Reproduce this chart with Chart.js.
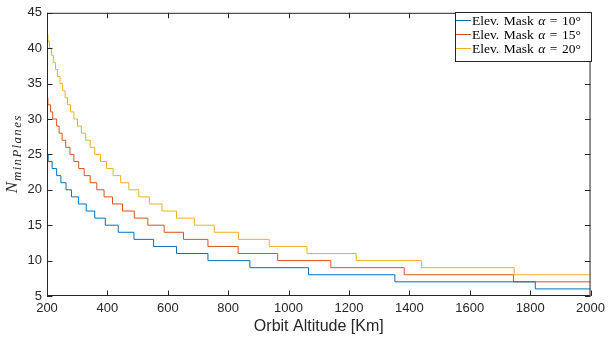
<!DOCTYPE html>
<html>
<head>
<meta charset="utf-8">
<script src="https://cdn.jsdelivr.net/npm/chart.js@4/dist/chart.umd.min.js"></script>
<style>
html, body { margin: 0; padding: 0; background: #fff; }
</style>
</head>
<body>
<canvas id="myChart" width="610" height="343"></canvas>
<script>
// step start altitudes [Km] and number of planes
var alt10 = [200, 204, 217, 232, 246, 263, 281, 304, 330, 358, 393, 436, 488, 553, 629, 733, 872, 1066, 1352, 1817, 2000];
var n10   = [25, 24, 23, 22, 21, 20, 19, 18, 17, 16, 15, 14, 13, 12, 11, 10, 9, 8, 7, 6, 6];

var alt15 = [200, 203, 212, 219, 232, 240, 250, 262, 276, 289, 305, 323, 343, 365, 389, 417, 450, 489, 534, 588, 652, 733, 833, 964, 1140, 1383, 1745, 2000];
var n15   = [33, 32, 31, 30, 29, 28, 27, 26, 25, 24, 23, 22, 21, 20, 19, 18, 17, 16, 15, 14, 13, 12, 11, 10, 9, 8, 7, 7];

var alt20 = [200, 203, 208, 215, 221, 228, 235, 243, 251, 260, 268, 278, 289, 301, 314, 328, 343, 358, 377, 397, 419, 444, 471, 504, 539, 581, 629, 688, 754, 834, 936, 1061, 1224, 1440, 1747, 2000];
var n20   = [42, 41, 40, 39, 38, 37, 36, 35, 34, 33, 32, 31, 30, 29, 28, 27, 26, 25, 24, 23, 22, 21, 20, 19, 18, 17, 16, 15, 14, 13, 12, 11, 10, 9, 8, 8];

var labels = ["Elev. Mask α = 10°", "Elev. Mask α = 15°", "Elev. Mask α = 20°"];
var colors = ["#0072BD", "#D95319", "#EDB120"];
var xTitle = "Orbit Altitude [Km]";

function pts(xs, ys) {
    var out = [];
    for (var i = 0; i < xs.length; i++) out.push({x: xs[i], y: ys[i]});
    return out;
}

const axisColor = "#262626";

// draws word by word with fixed gaps, a bit like LaTeX spacing
function drawWords(ctx, words, x, y, size, gap) {
    words.forEach(w => {
        ctx.font = (w === "α" ? "italic " : "") + size + "px 'Liberation Serif'";
        ctx.fillText(w, x, y);
        x += ctx.measureText(w).width + gap;
    });
}

// MATLAB style box, inward ticks, axis titles and legend
const matlabLook = {
    id: "matlabLook",
    afterDatasetsDraw(chart) {
        const ctx = chart.ctx;
        const a = chart.chartArea;
        const xs = chart.scales.x, ys = chart.scales.y;
        ctx.save();
        ctx.strokeStyle = axisColor;
        ctx.lineWidth = 1;
        ctx.strokeRect(a.left + 0.5, a.top + 0.5, a.right - a.left - 1, a.bottom - a.top - 1);

        const tl = 5.5;
        ctx.beginPath();
        xs.ticks.forEach(t => {
            var px = Math.round(xs.getPixelForValue(t.value)) + 0.5;
            ctx.moveTo(px, a.bottom); ctx.lineTo(px, a.bottom - tl);
            ctx.moveTo(px, a.top); ctx.lineTo(px, a.top + tl);
        });
        ys.ticks.forEach(t => {
            var py = Math.round(ys.getPixelForValue(t.value)) + 0.5;
            ctx.moveTo(a.left, py); ctx.lineTo(a.left + tl, py);
            ctx.moveTo(a.right, py); ctx.lineTo(a.right - tl, py);
        });
        ctx.stroke();

        // x title
        ctx.fillStyle = axisColor;
        ctx.font = "16px 'Liberation Sans'";
        ctx.textAlign = "center";
        ctx.textBaseline = "middle";
        ctx.fillText(xTitle, (a.left + a.right) / 2, 327);

        // y title N_{minPlanes}
        ctx.save();
        ctx.translate(9, (a.top + a.bottom) / 2);
        ctx.rotate(-Math.PI / 2);
        ctx.textAlign = "left";
        ctx.textBaseline = "alphabetic";
        var sub = "minPlanes";
        ctx.font = "italic 17px 'Liberation Serif'";
        var wN = ctx.measureText("N").width;
        ctx.font = "italic 13px 'Liberation Serif'";
        var wS = ctx.measureText(sub).width + sub.length * 1.3;
        var x0 = -(wN + wS) / 2;
        ctx.font = "italic 17px 'Liberation Serif'";
        ctx.fillText("N", x0, 8);
        ctx.font = "italic 13px 'Liberation Serif'";
        var cx = x0 + wN + 1;
        for (var c of sub) {
            ctx.fillText(c, cx, 12);
            cx += ctx.measureText(c).width + 1.3;
        }
        ctx.restore();

        // legend
        var bx = 455, by = 12, bw = 136, bh = 49;
        ctx.fillStyle = "#fff";
        ctx.fillRect(bx, by, bw, bh);
        ctx.strokeStyle = axisColor;
        ctx.strokeRect(bx + 0.5, by + 0.5, bw, bh);
        chart.data.datasets.forEach((ds, i) => {
            var ry = 20.5 + i * 14;
            ctx.strokeStyle = ds.borderColor;
            ctx.beginPath();
            ctx.moveTo(bx + 1, ry); ctx.lineTo(bx + 16, ry);
            ctx.stroke();
            ctx.fillStyle = "#000";
            ctx.textAlign = "left";
            ctx.textBaseline = "middle";
            drawWords(ctx, ds.label.split(" "), bx + 17, ry + 1, 13.5, 4.5);
        });
        ctx.restore();
    }
};

new Chart("myChart", {
    type: "line",
    data: {
        datasets: [
            {label: labels[0], data: pts(alt10, n10), borderColor: colors[0]},
            {label: labels[1], data: pts(alt15, n15), borderColor: colors[1]},
            {label: labels[2], data: pts(alt20, n20), borderColor: colors[2]}
        ].map(d => Object.assign(d, {stepped: "before", borderWidth: 1, pointRadius: 0, fill: false}))
    },
    options: {
        responsive: false,
        animation: false,
        devicePixelRatio: 1,
        layout: {padding: {left: 0, right: 17, top: 9, bottom: 0}},
        plugins: {legend: {display: false}, tooltip: {enabled: false}},
        scales: {
            x: {
                type: "linear", min: 200, max: 2000,
                grid: {display: false, drawTicks: false}, border: {display: false},
                ticks: {stepSize: 200, maxRotation: 0, autoSkip: false, padding: 5, color: axisColor,
                        font: {family: "'Liberation Sans'", size: 13},
                        callback: v => String(v)},
                afterFit: s => { s.height = 47; }
            },
            y: {
                min: 5, max: 45,
                grid: {display: false, drawTicks: false}, border: {display: false},
                ticks: {stepSize: 5, padding: 5, color: axisColor,
                        font: {family: "'Liberation Sans'", size: 13},
                        callback: v => String(v)},
                afterFit: s => { s.width = 47; }
            }
        }
    },
    plugins: [matlabLook]
});
</script>
</body>
</html>
